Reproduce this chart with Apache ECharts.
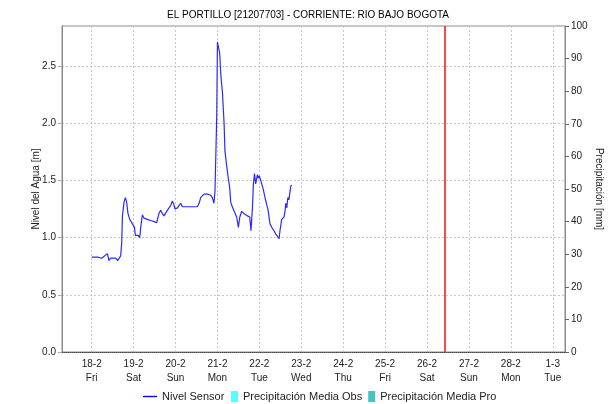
<!DOCTYPE html>
<html>
<head>
<meta charset="utf-8">
<script src="https://cdn.jsdelivr.net/npm/echarts@6/dist/echarts.min.js"></script>
<style>
  html, body { margin: 0; padding: 0; background: #fff; }
  #chart { width: 616px; height: 404px; }
</style>
</head>
<body>
<div id="chart"></div>
<script>
// Hours are counted from 18-2 00:00.
const dayLabels = ['18-2', '19-2', '20-2', '21-2', '22-2', '23-2', '24-2', '25-2', '26-2', '27-2', '28-2', '1-3'];
const weekdays  = ['Fri', 'Sat', 'Sun', 'Mon', 'Tue', 'Wed', 'Thu', 'Fri', 'Sat', 'Sun', 'Mon', 'Tue'];
const dayTicks  = [0, 24, 48, 72, 96, 120, 144, 168, 192, 216, 240, 264];

const levelTicks  = [0, 0.5, 1.0, 1.5, 2.0, 2.5];

// Nivel Sensor readings: hour offsets and water level [m]
const sensorHours = [
  0, 3.4, 4.2, 5.7, 9.0, 9.9, 10.9, 12.0, 13.7, 14.9, 15.6, 16.6, 17.2, 17.6, 18.5, 19.3,
  20.0, 20.8, 21.8, 23.3, 24.5, 25.0, 25.9, 26.7, 27.5, 28.1, 29.0, 30.0, 30.9, 31.9, 32.6,
  33.8, 35.7, 37.2, 38.5, 39.5, 40.5, 41.4, 43.4, 45.2, 46.2, 47.0, 47.7, 49.1, 50.0, 51.0,
  51.9, 52.9, 55.7, 58.6, 60.5, 61.5, 62.4, 64.3, 66.3, 68.2, 69.1, 70.0, 70.6, 71.6, 72.0,
  72.9, 73.3, 73.9, 74.9, 75.8, 76.3, 77.1, 78.1, 79.0, 79.6, 80.5, 81.9, 83.0, 84.0, 84.8,
  85.9, 87.2, 89.2, 90.5, 91.2, 92.0, 92.6, 93.2, 93.9, 94.9, 95.5, 96.0, 96.8, 98.1, 99.7,
  101.0, 102.1, 103.1, 104.4, 105.4, 106.4, 107.3, 107.8, 108.8, 110.1, 110.7, 111.1, 111.7,
  112.3, 112.9, 114.0, 114.5
];
const sensorLevels = [
  0.83, 0.83, 0.84, 0.82, 0.86, 0.80, 0.82, 0.81, 0.82, 0.80, 0.795, 0.84, 0.96, 1.19, 1.31, 1.35,
  1.31, 1.21, 1.16, 1.12, 1.09, 1.02, 1.01, 1.02, 1.00, 1.09, 1.20, 1.17, 1.18, 1.16, 1.17,
  1.15, 1.14, 1.13, 1.21, 1.24, 1.21, 1.19, 1.24, 1.28, 1.32, 1.29, 1.25, 1.26, 1.28, 1.30,
  1.27, 1.27, 1.27, 1.27, 1.27, 1.30, 1.35, 1.38, 1.38, 1.37, 1.35, 1.30, 1.41, 2.07, 2.71,
  2.71, 2.61, 2.43, 2.26, 2.00, 1.76, 1.65, 1.53, 1.44, 1.31, 1.27, 1.22, 1.18, 1.09, 1.18,
  1.23, 1.21, 1.19, 1.18, 1.06, 1.25, 1.47, 1.56, 1.47, 1.55, 1.52, 1.54, 1.50, 1.43, 1.32,
  1.24, 1.12, 1.09, 1.06, 1.03, 1.01, 0.99, 1.06, 1.16, 1.18, 1.23, 1.30, 1.26,
  1.35, 1.33, 1.45, 1.46
];

// Precipitation series (no values in this period)
const precipObs = [];
const precipPro = [];

const currentHour = 202;      // vertical marker, 26-2 ~10:00
const xStart = -17, xEnd = 271;
const levelMax = 2.85;

const font = 'Liberation Sans, Arial, sans-serif';
const chart = echarts.init(document.getElementById('chart'), null, { renderer: 'canvas' });

chart.setOption({
  animation: false,
  backgroundColor: '#ffffff',
  textStyle: { fontFamily: font },
  title: {
    text: 'EL PORTILLO [21207703] - CORRIENTE: RIO BAJO BOGOTA',
    left: 'center',
    top: 5,
    textStyle: { fontSize: 10, fontWeight: 'normal', color: '#000', fontFamily: font }
  },
  grid: {
    left: 62, right: 51, top: 26, bottom: 52,
    show: true, borderColor: '#8a8a8a', borderWidth: 1, backgroundColor: 'transparent'
  },
  legend: [
    {
      data: ['Nivel Sensor'],
      left: 138, top: 386,
      itemWidth: 14, itemHeight: 1.4, itemGap: 4,
      icon: 'rect',
      textStyle: { fontSize: 11, color: '#222', fontFamily: font }
    },
    {
      data: ['Precipitación Media Obs', 'Precipitación Media Pro'],
      left: 226, top: 386,
      itemWidth: 7, itemHeight: 11, itemGap: 6,
      icon: 'rect',
      textStyle: { fontSize: 11, color: '#222', fontFamily: font }
    }
  ],
  xAxis: {
    type: 'value',
    min: xStart,
    max: xEnd,
    axisLine: { show: true, onZero: false, lineStyle: { color: '#444', type: [1, 1], width: 1 } },
    axisTick: { show: false, customValues: dayTicks },
    axisLabel: {
      customValues: dayTicks,
      color: '#222',
      fontSize: 10,
      lineHeight: 14,
      margin: 5,
      formatter: function (v) {
        const i = dayTicks.indexOf(v);
        return i < 0 ? '' : dayLabels[i] + '\n' + weekdays[i];
      }
    },
    splitLine: { show: true, lineStyle: { color: '#c8c8c8', type: [2, 2], width: 1 } }
  },
  yAxis: [
    {
      type: 'value',
      min: 0,
      max: levelMax,
      interval: 0.5,
      position: 'left',
      name: 'Nivel del Agua [m]',
      nameLocation: 'middle',
      nameGap: 21,
      nameMoveOverlap: false,
      nameTextStyle: { fontSize: 10, color: '#222', fontFamily: font },
      axisLine: { show: true, onZero: false, lineStyle: { color: '#8a8a8a' } },
      axisTick: { show: true, length: 4, lineStyle: { color: '#aaa' } },
      axisLabel: {
        color: '#222', fontSize: 10, margin: 6,
        showMaxLabel: false,
        formatter: function (v) {
          return levelTicks.some(t => Math.abs(t - v) < 1e-6) ? v.toFixed(1) : '';
        }
      },
      splitLine: { show: true, lineStyle: { color: '#c8c8c8', type: [2, 2], width: 1 } }
    },
    {
      type: 'value',
      min: 0,
      max: 100,
      interval: 10,
      position: 'right',
      name: 'Precipitación [mm]',
      nameLocation: 'middle',
      nameRotate: -90,
      nameGap: 29,
      nameMoveOverlap: false,
      nameTextStyle: { fontSize: 10, color: '#222', fontFamily: font },
      axisLine: { show: true, onZero: false, lineStyle: { color: '#8a8a8a' } },
      axisTick: { show: true, length: 4, lineStyle: { color: '#666' } },
      axisLabel: { color: '#222', fontSize: 10, margin: 6 },
      splitLine: { show: false }
    }
  ],
  series: [
    {
      name: 'Nivel Sensor',
      type: 'line',
      yAxisIndex: 0,
      data: sensorHours.map((h, i) => [h, sensorLevels[i]]),
      showSymbol: false,
      symbol: 'none',
      lineStyle: { color: '#2a2aff', width: 1.2 },
      itemStyle: { color: '#0000ff' },
      markLine: {
        silent: true,
        symbol: ['none', 'none'],
        label: { show: false },
        lineStyle: { color: '#ff1a1a', width: 1.6, type: 'solid' },
        data: [{ xAxis: currentHour }]
      }
    },
    {
      name: 'Precipitación Media Obs',
      type: 'bar',
      yAxisIndex: 1,
      data: precipObs,
      itemStyle: { color: '#55ffff' }
    },
    {
      name: 'Precipitación Media Pro',
      type: 'bar',
      yAxisIndex: 1,
      data: precipPro,
      itemStyle: { color: '#40c4c4' }
    }
  ]
});
</script>
</body>
</html>
